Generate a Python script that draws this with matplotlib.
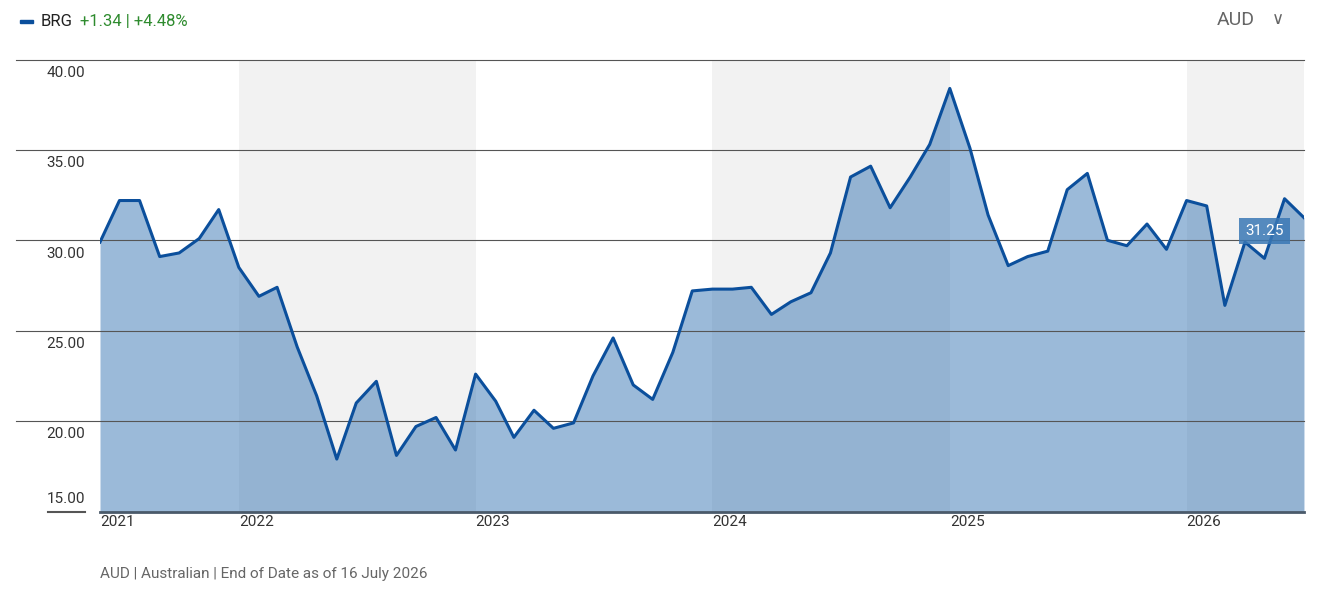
import numpy as np
import pandas as pd
import matplotlib
matplotlib.use("Agg")
import matplotlib.pyplot as plt
from matplotlib.transforms import blended_transform_factory

plt.rcParams["font.family"] = ["Roboto", "DejaVu Sans"]

# data: monthly closes, Jun 2021 .. Jul 2026
dates = pd.date_range("2021-06-01", periods=62, freq="MS")
prices = [29.9, 32.2, 32.2, 29.1, 29.3, 30.1, 31.7, 28.5, 26.9, 27.4,
          24.1, 21.4, 17.9, 21.0, 22.2, 18.1, 19.7, 20.2, 18.4, 22.6,
          21.1, 19.1, 20.6, 19.6, 19.9, 22.5, 24.6, 22.0, 21.2, 23.8,
          27.2, 27.3, 27.3, 27.4, 25.9, 26.6, 27.1, 29.3, 33.5, 34.1,
          31.8, 33.5, 35.3, 38.4, 35.1, 31.4, 28.6, 29.1, 29.4, 32.8,
          33.7, 30.0, 29.7, 30.9, 29.5, 32.2, 31.9, 26.4, 29.9, 29.0,
          32.3, 31.25]
y_ticks = [15, 20, 25, 30, 35, 40]
years = [2022, 2023, 2024, 2025, 2026]

W, H = 1332, 590
fig = plt.figure(figsize=(W / 100, H / 100), dpi=100)
x0, x1, ytop, ybot = 100, 1304, 59.5, 511.5
ax = fig.add_axes([x0 / W, 1 - ybot / H, (x1 - x0) / W, (ybot - ytop) / H])

xs = dates.to_numpy()
ax.set_xlim(xs[0], xs[-1])
ax.set_ylim(15, 40)

# shaded alternate years
for yr, end in [(2022, 2023), (2024, 2025), (2026, 2027)]:
    ax.axvspan(pd.Timestamp(f"{yr}-01-01"), min(pd.Timestamp(f"{end}-01-01"), dates[-1]),
               color="#f2f2f2", zorder=0, lw=0)

ax.fill_between(xs, prices, 15, color="#2f6fb0", alpha=0.48, zorder=1, lw=0)
ax.plot(xs, prices, color="#0b4f9c", lw=2.2, zorder=3)

# gridlines extending into left margin
tr = blended_transform_factory(fig.transFigure, ax.transData)
for v in y_ticks[1:]:
    ax.plot([16 / W, x1 / W], [v, v], transform=tr, color="#555555", lw=0.8,
            clip_on=False, zorder=2)
    ax.text(85 / W, v - 0.35, f"{v:.2f}", transform=tr, ha="right", va="top",
            fontsize=11, color="#333333")
ax.plot([48 / W, 85 / W], [15, 15], transform=tr, color="#555555", lw=1.5, clip_on=False)
ax.text(85 / W, 15.3, "15.00", transform=tr, ha="right", va="bottom", fontsize=11, color="#333333")

ax.set_xticks([])
ax.set_yticks([])
for s in ["top", "left", "right"]:
    ax.spines[s].set_visible(False)
ax.spines["bottom"].set_color("#4a5a6a")
ax.spines["bottom"].set_linewidth(2)

trx = blended_transform_factory(ax.transData, fig.transFigure)
ax.text(xs[0], 1 - 515 / H, "2021", transform=trx, ha="left", va="top", fontsize=11, color="#333333")
for yr in years:
    ax.text(pd.Timestamp(f"{yr}-01-01"), 1 - 515 / H, str(yr), transform=trx,
            ha="left", va="top", fontsize=11, color="#333333")

# last value tag
ax.annotate(f"{prices[-1]:.2f}", xy=(xs[-1], prices[-1]), xytext=(xs[-3], 30.5),
            ha="center", va="center", color="white", fontsize=11,
            bbox=dict(boxstyle="square,pad=0.4", fc="#3a78b5", ec="none", alpha=0.85))

# header
fig.patches.append(plt.Rectangle((20 / W, 1 - 23 / H), 13 / W, 3 / H,
                                 transform=fig.transFigure, color="#0b4f9c"))
fig.text(41 / W, 1 - 22 / H, "BRG", fontsize=12, va="center", color="#222222")
fig.text(80 / W, 1 - 22 / H, "+1.34 | +4.48%", fontsize=12, va="center", color="#2e8b2e")
fig.text(1255 / W, 1 - 20 / H, "AUD", fontsize=14, va="center", ha="right", color="#666666")
fig.text(1278 / W, 1 - 20 / H, "\u2228", fontsize=12, va="center", ha="center", color="#666666")

fig.text(100 / W, 1 - 574 / H, "AUD | Australian | End of Date as of 16 July 2026",
         fontsize=11, va="center", color="#666666")

fig.savefig("out.png", dpi=100)
